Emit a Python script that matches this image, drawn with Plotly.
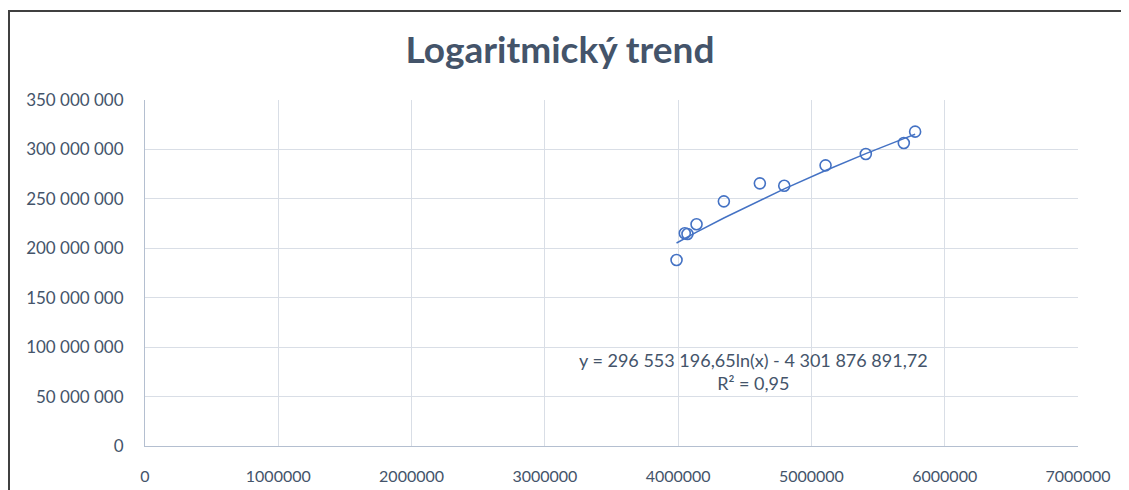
import numpy as np
import plotly.graph_objects as go

# hodnoty
x_hodnoty = [3988000, 4050000, 4070000, 4138000, 4343000, 4613000, 4796000, 5106000, 5408000, 5693000, 5778000]
y_hodnoty = [188200000, 215200000, 214500000, 224300000, 247500000, 265700000, 263300000, 283900000, 295400000, 306500000, 318000000]

# koeficienty logaritmického trendu (z popisku grafu)
koef_a = 296553196.65
koef_b = -4301876891.72
rovnice = "y = 296 553 196,65ln(x) - 4 301 876 891,72<br>R² = 0,95"

barva = '#4472C4'
text_barva = '#44546A'
font = 'Lato'

x_trend = np.array(sorted(x_hodnoty), dtype=float)
y_trend = koef_a * np.log(x_trend) + koef_b

fig = go.Figure()
fig.add_trace(go.Scatter(
    x=x_trend, y=y_trend, mode='lines',
    line=dict(color=barva, width=1.5),
    hoverinfo='skip'
))
fig.add_trace(go.Scatter(
    x=x_hodnoty, y=y_hodnoty, mode='markers',
    marker=dict(symbol='circle-open', size=11, color=barva, line=dict(width=1.6))
))

fig.add_annotation(
    x=4565000, y=75000000, text=rovnice, showarrow=False,
    font=dict(family=font, size=18, color=text_barva), align='center'
)

# rámeček grafu (horní a levá hrana); stránka má okraj 8 px
fig.add_shape(type='line', xref='paper', yref='paper', x0=(0 - 137) / 933, x1=(1113 - 137) / 933,
              y0=(438 - 3) / 346, y1=(438 - 3) / 346, line=dict(color='#404040', width=2))
fig.add_shape(type='line', xref='paper', yref='paper', x0=(1 - 137) / 933, x1=(1 - 137) / 933,
              y0=(438 - 3) / 346, y1=(438 - 482) / 346, line=dict(color='#404040', width=2))

fig.update_layout(
    width=1113, height=482,
    margin=dict(l=137, r=43, t=92, b=44, autoexpand=False),
    paper_bgcolor='white', plot_bgcolor='white',
    showlegend=False,
    separators=', ',
    title=dict(text='<b>Logaritmický trend</b>', x=0.496, xanchor='center', y=1 - 42 / 482, yanchor='middle',
               font=dict(family=font, size=37, color=text_barva)),
    font=dict(family=font, color=text_barva),
    xaxis=dict(
        range=[0, 7000000], dtick=1000000, tickformat='d', automargin=False,
        showgrid=True, gridcolor='#D9DEE6', gridwidth=1,
        showline=True, linecolor='#B4BFD0', linewidth=1,
        zeroline=False, ticks='', ticklabelstandoff=16,
        tickfont=dict(family=font, size=16, color=text_barva)
    ),
    yaxis=dict(
        range=[0, 350000000], dtick=50000000, tickformat=',d', automargin=False,
        showgrid=True, gridcolor='#D9DEE6', gridwidth=1,
        showline=True, linecolor='#B4BFD0', linewidth=1,
        zeroline=False, ticks='', ticklabelstandoff=17,
        tickfont=dict(family=font, size=17, color=text_barva)
    ),
)

fig.write_html("out.html", config={'displayModeBar': False})
